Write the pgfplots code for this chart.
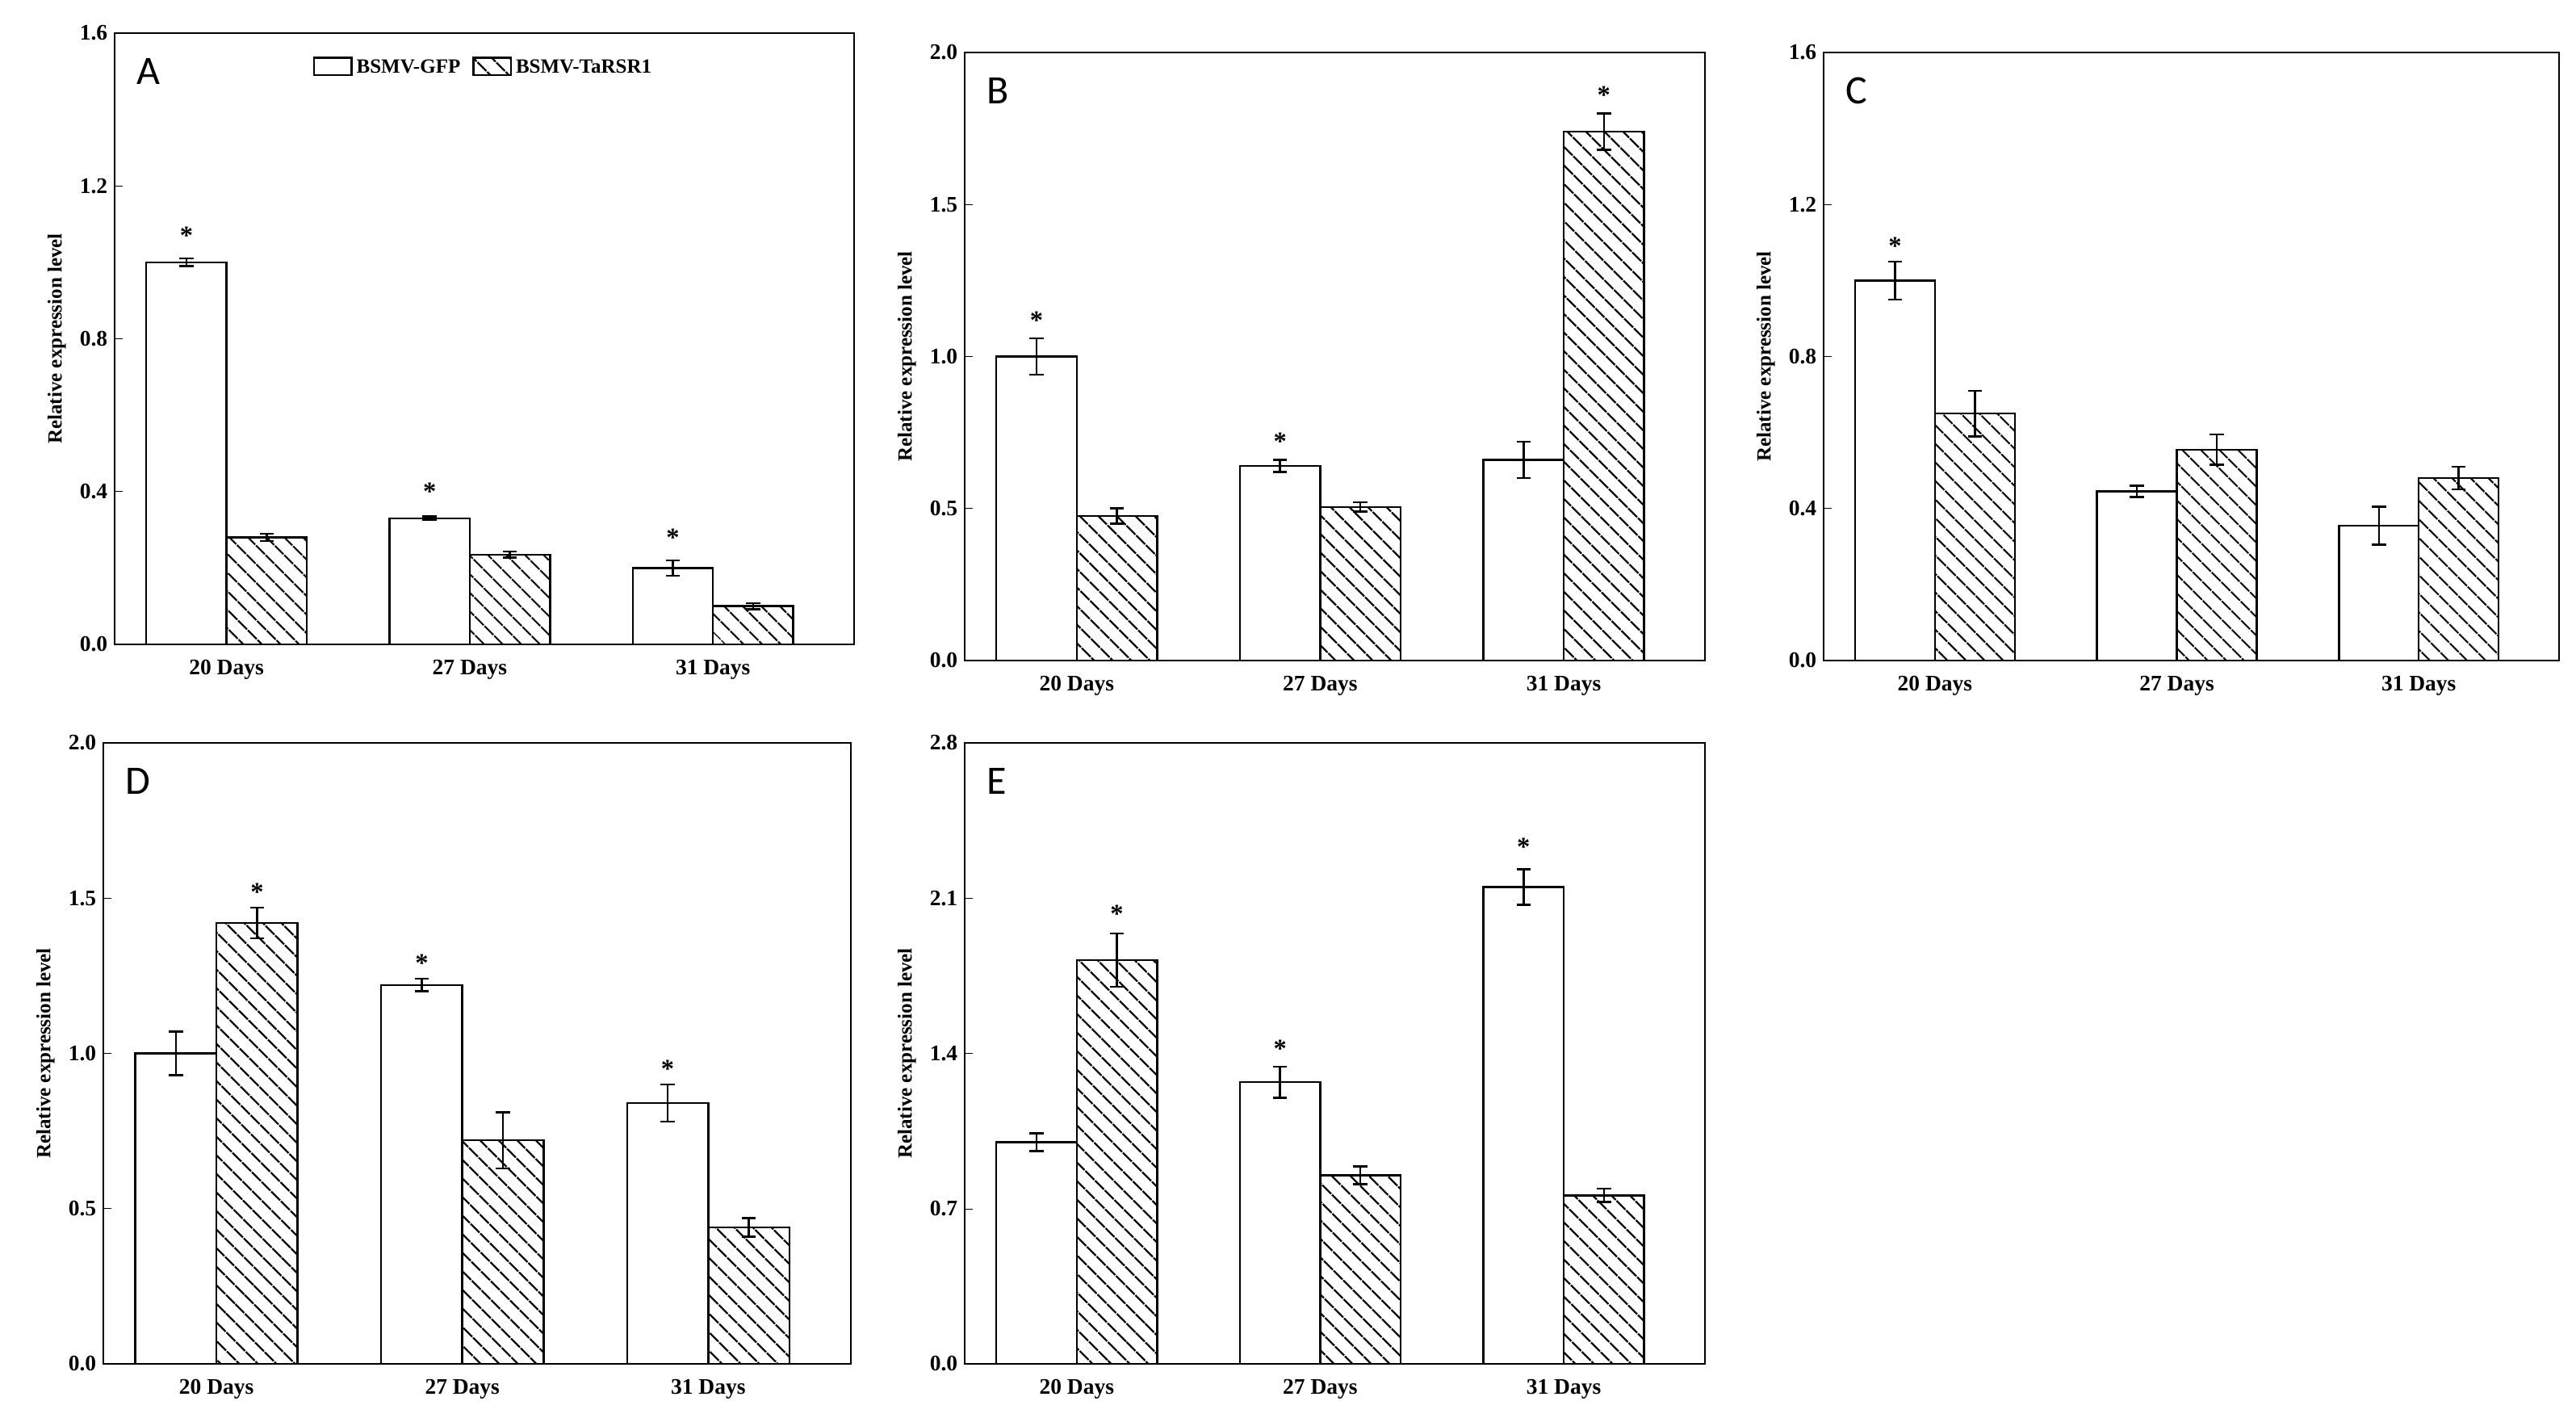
\documentclass[border=0pt]{standalone}
\usepackage{pgfplots}
\pgfplotsset{compat=1.18}
\usepackage{fontspec}
\setmainfont{Liberation Serif}
\newfontfamily\lettfont{Carlito}
\usetikzlibrary{patterns.meta}
\pgfplotsset{
  panel/.style={
    scale only axis, anchor=south west,
    xmin=-0.46, xmax=2.58, ymin=0,
    xtick={0,1,2}, xticklabels={20 Days,27 Days,31 Days},
    major tick length=0pt,
    ytick style={draw=black}, ytick pos=left, xtick pos=bottom,
    major tick length=4pt, xtick style={draw=none},
    tick label style={font=\fontsize{11}{13}\selectfont\bfseries},
    /pgf/number format/assume math mode=true,
    /pgf/number format/fixed, /pgf/number format/fixed zerofill, /pgf/number format/precision=1,
    ylabel={Relative expression level},
    ylabel style={font=\fontsize{10}{12}\selectfont\bfseries},
    axis line style={line width=1.1pt},
    ybar, bar width=0.33, 
    every axis plot/.append style={line width=1pt, draw=black},
    error bars/error bar style={line width=1pt},
    error bars/error mark options={rotate=90, mark size=3.5pt, line width=1pt},
  },
  gfp/.style={fill=white, bar shift=-0.165, error bars/.cd, y dir=both, y explicit},
  ta/.style={pattern={Lines[angle=-45,distance=6.5pt,line width=1pt]}, bar shift=0.165, error bars/.cd, y dir=both, y explicit},
}
\newcommand\lett[1]{\node[anchor=north west,font=\lettfont\fontsize{20}{22}\selectfont] at (rel axis cs:0.02,0.97) {#1};}
\newcommand\st[2]{\node[font=\fontsize{13}{13}\selectfont\bfseries] at (axis cs:#1,#2) {*};}
\begin{document}
\begin{tikzpicture}
\path (0,0) rectangle (1276.4pt,704pt);
% A
\begin{axis}[panel, at={(56.8pt,384.8pt)}, width=366.4pt, height=302.8pt, ymax=1.6, ytick={0,0.4,...,1.6},
  legend columns=2, legend style={at={(0.5,0.97)},anchor=north,draw=none,font=\fontsize{10}{12}\selectfont\bfseries, /tikz/every even column/.append style={column sep=4pt}},
  legend image code/.code={\draw[#1, line width=1pt] (0cm,-0.12cm) rectangle (0.65cm,0.18cm);}]
\addplot[gfp] coordinates {(0,1.0) +- (0,0.01) (1,0.33) +- (0,0.005) (2,0.20) +- (0,0.02)};
\addplot[ta] coordinates {(0,0.28) +- (0,0.01) (1,0.235) +- (0,0.008) (2,0.10) +- (0,0.008)};
\legend{BSMV-GFP,BSMV-TaRSR1}
\lett{A}
\st{-0.165}{1.07}\st{0.835}{0.40}\st{1.835}{0.28}
\end{axis}
% B
\begin{axis}[panel, at={(478pt,376.8pt)}, width=366.8pt, height=301.2pt, ymax=2.0, ytick={0,0.5,...,2.0}]
\addplot[gfp] coordinates {(0,1.0) +- (0,0.06) (1,0.64) +- (0,0.02) (2,0.66) +- (0,0.06)};
\addplot[ta] coordinates {(0,0.475) +- (0,0.025) (1,0.505) +- (0,0.015) (2,1.74) +- (0,0.06)};
\lett{B}
\st{-0.165}{1.12}\st{0.835}{0.72}\st{2.165}{1.86}
\end{axis}
% C
\begin{axis}[panel, at={(903.6pt,376.8pt)}, width=364.4pt, height=301.2pt, ymax=1.6, ytick={0,0.4,...,1.6}]
\addplot[gfp] coordinates {(0,1.0) +- (0,0.05) (1,0.445) +- (0,0.015) (2,0.355) +- (0,0.05)};
\addplot[ta] coordinates {(0,0.65) +- (0,0.06) (1,0.555) +- (0,0.04) (2,0.48) +- (0,0.03)};
\lett{C}
\st{-0.165}{1.09}
\end{axis}
% D
\begin{axis}[panel, at={(51.2pt,28.4pt)}, width=370.4pt, height=307.6pt, ymax=2.0, ytick={0,0.5,...,2.0}]
\addplot[gfp] coordinates {(0,1.0) +- (0,0.07) (1,1.22) +- (0,0.02) (2,0.84) +- (0,0.06)};
\addplot[ta] coordinates {(0,1.42) +- (0,0.05) (1,0.72) +- (0,0.09) (2,0.44) +- (0,0.03)};
\lett{D}
\st{0.165}{1.52}\st{0.835}{1.29}\st{1.835}{0.95}
\end{axis}
% E
\begin{axis}[panel, at={(478pt,28.4pt)}, width=366.8pt, height=307.6pt, ymax=2.8, ytick={0,0.7,...,2.8}]
\addplot[gfp] coordinates {(0,1.0) +- (0,0.04) (1,1.27) +- (0,0.07) (2,2.15) +- (0,0.08)};
\addplot[ta] coordinates {(0,1.82) +- (0,0.12) (1,0.85) +- (0,0.04) (2,0.76) +- (0,0.03)};
\lett{E}
\st{0.165}{2.03}\st{0.835}{1.42}\st{1.835}{2.33}
\end{axis}
\end{tikzpicture}
\end{document}
